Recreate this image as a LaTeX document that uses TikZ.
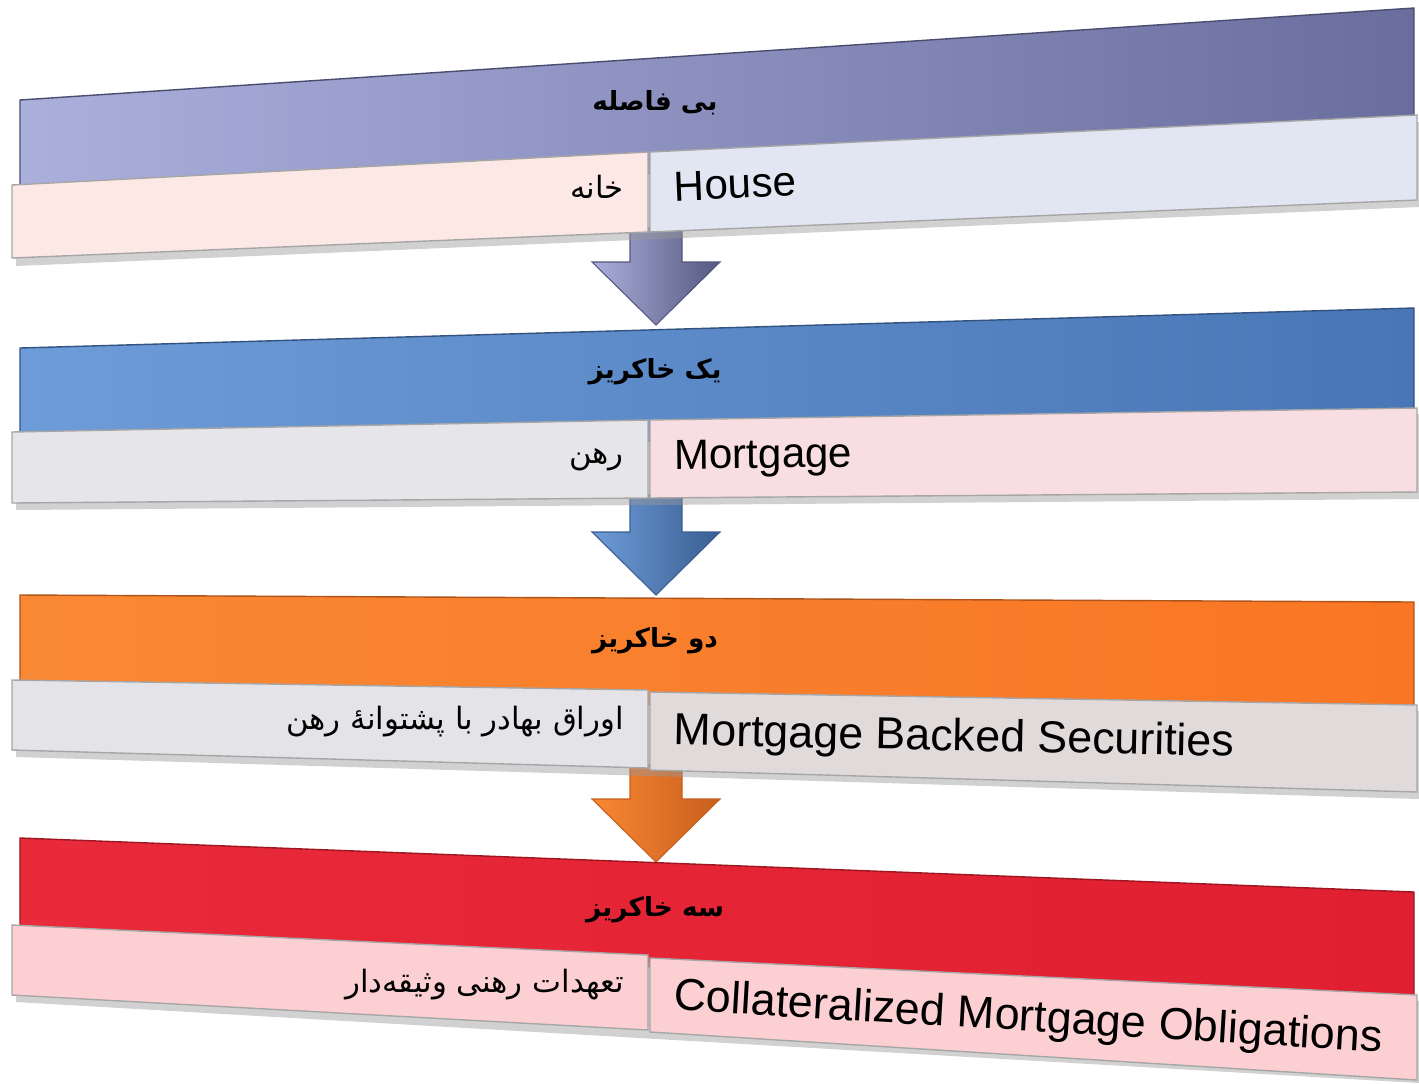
\documentclass[tikz,border=0pt]{standalone}
\usepackage{fontspec}
\setmainfont{Liberation Sans}
\newfontfamily\arabicfont[Script=Arabic]{DejaVu Sans}
\usetikzlibrary{calc}
\TeXXeTstate=1
\definecolor{purpleL}{HTML}{ABAFDC}
\definecolor{purpleR}{HTML}{6A6E9E}
\definecolor{blueL}{HTML}{6E9CD8}
\definecolor{blueR}{HTML}{4876B6}
\definecolor{orangeL}{HTML}{F98834}
\definecolor{orangeR}{HTML}{F97624}
\definecolor{redL}{HTML}{E92A3A}
\definecolor{redR}{HTML}{E01F30}
\definecolor{boxA}{HTML}{FCE9E5}
\definecolor{boxB}{HTML}{E2E6F3}
\definecolor{boxC}{HTML}{E6E5EA}
\definecolor{boxD}{HTML}{F8DDE2}
\definecolor{boxE}{HTML}{E4E3E8}
\definecolor{boxF}{HTML}{E1DADB}
\definecolor{boxG}{HTML}{FCD0D3}
\newcommand{\blockarr}[4]{%
	\shadedraw[left color=#3,right color=#4,draw=#4,line width=0.6pt]
		($(#1)+(-26,0)$) -- ($(#1)+(26,0)$) -- ($(#2)+(26,63)$) -- ($(#2)+(64,63)$) -- (#2)
		-- ($(#2)+(-64,63)$) -- ($(#2)+(-26,63)$) -- cycle;
}
\tikzset{
	header/.style={draw=#1!70!black,line width=0.8pt},
	cell/.style={draw=black!35,line width=0.8pt},
	shadow/.style={fill=black!40,opacity=0.45},
	title/.style={font=\arabicfont\bfseries\fontsize{15}{18}\selectfont},
	fatext/.style={anchor=east,font=\arabicfont\fontsize{17.5}{21}\selectfont},
	entext/.style={anchor=west,font=\fontsize{24}{28}\selectfont}
}
\begin{document}
\begin{tikzpicture}[x=0.02cm,y=0.02cm]
				\useasboundingbox (0,0) rectangle (1419,-1083);
				\coordinate (a1) at (656,-228);
				\coordinate (b1) at (656,-325);
				\coordinate (a2) at (656,-495);
				\coordinate (b2) at (656,-595);
				\coordinate (a3) at (656,-765);
				\coordinate (b3) at (656,-862);
				\blockarr{a1}{b1}{purpleL}{purpleR!80!black}
				\blockarr{a2}{b2}{blueL}{blueR!80!black}
				\blockarr{a3}{b3}{orangeL}{orangeR!80!black}
				\shadedraw [header=purpleR,left color=purpleL,right color=purpleR] (20,-100) -- (1414,-8) -- (1414,-140) -- (20,-200) -- cycle;
				\fill [shadow] (16,-192) -- (1419,-122) -- (1419,-207) -- (16,-266) -- cycle;
				\draw [cell,fill=boxA] (12,-185) -- (648,-152) -- (648,-232) -- (12,-258) -- cycle;
				\draw [cell,fill=boxB] (650,-152) -- (1417,-115) -- (1417,-200) -- (650,-232) -- cycle;
				\node [title] (head1) at (655,-103) {\beginR بی فاصله\endR};
				\node [fatext] (fa1) at (630,-187) {\beginR خانه\endR};
				\node [entext,rotate=2.4] (en1) at (668,-187) {House};
				\shadedraw [header=blueR,left color=blueL,right color=blueR] (20,-348) -- (1414,-308) -- (1414,-430) -- (20,-450) -- cycle;
				\fill [shadow] (16,-438) -- (1419,-414) -- (1419,-499) -- (16,-510) -- cycle;
				\draw [cell,fill=boxC] (12,-432) -- (648,-420) -- (648,-498) -- (12,-503) -- cycle;
				\draw [cell,fill=boxD] (650,-420) -- (1417,-408) -- (1417,-492) -- (650,-498) -- cycle;
				\node [title] (head2) at (655,-372) {\beginR یک خاکریز\endR};
				\node [fatext] (fa2) at (630,-460) {\beginR رهن\endR};
				\node [entext,rotate=0.6] (en2) at (668,-459) {Mortgage};
				\shadedraw [header=orangeR,left color=orangeL,right color=orangeR] (20,-595) -- (1414,-602) -- (1414,-715) -- (20,-695) -- cycle;
				\fill [shadow] (16,-686) -- (1419,-711) -- (1419,-799) -- (16,-757) -- cycle;
				\draw [cell,fill=boxE] (12,-680) -- (648,-690) -- (648,-768) -- (12,-750) -- cycle;
				\draw [cell,fill=boxF] (650,-692) -- (1417,-705) -- (1417,-792) -- (650,-770) -- cycle;
				\node [title] (head3) at (655,-641) {\beginR دو خاکریز\endR};
				\node [fatext] (fa3) at (630,-722) {\beginR اوراق بهادر با پشتوانهٔ رهن\endR};
				\node [entext,rotate=-1.2,font=\fontsize{25.5}{30}\selectfont] (en3) at (668,-733) {Mortgage Backed Securities};
				\shadedraw [header=redR,left color=redL,right color=redR] (20,-838) -- (1414,-892) -- (1414,-1005) -- (20,-935) -- cycle;
				\fill [shadow] (16,-931) -- (1419,-1001) -- (1419,-1083) -- (16,-1002) -- cycle;
				\draw [cell,fill=boxG] (12,-925) -- (648,-955) -- (648,-1030) -- (12,-995) -- cycle;
				\draw [cell,fill=boxG] (650,-958) -- (1417,-995) -- (1417,-1080) -- (650,-1032) -- cycle;
				\node [title] (head4) at (655,-910) {\beginR سه خاکریز\endR};
				\node [fatext] (fa4) at (630,-985) {\beginR تعهدات رهنی وثیقه‌دار\endR};
				\node [entext,rotate=-3.4,font=\fontsize{25.5}{30}\selectfont] (en4) at (668,-998) {Collateralized Mortgage Obligations};
			\end{tikzpicture}
\end{document}
